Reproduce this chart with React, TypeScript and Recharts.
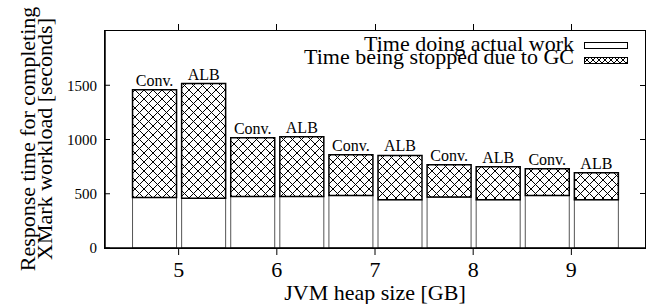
import { Bar, BarChart, LabelList, Legend, XAxis, YAxis } from "recharts";

const heapSizes = [5, 6, 7, 8, 9];
const workConv = [465, 475, 484, 469, 484];
const gcConv = [994, 542, 376, 298, 246];
const workAlb = [459, 475, 445, 445, 445];
const gcAlb = [1057, 551, 408, 304, 249];
const yTicks = [0, 500, 1000, 1500];

const X_DOMAIN: [number, number] = [4.25, 9.75];
const Y_DOMAIN: [number, number] = [0, 2000];

const rows = heapSizes.flatMap((h, i) => [
  { pos: h - 0.25, label: "Conv.", work: workConv[i], gc: gcConv[i] },
  { pos: h + 0.25, label: "ALB", work: workAlb[i], gc: gcAlb[i] },
]);

const FONT = "'Liberation Serif', 'DejaVu Serif', serif";

const W = 651;
const H = 304;
const MARGIN = { top: 31, right: 6, left: 0, bottom: 0 };
const Y_AXIS_W = 105;
const X_AXIS_H = 56;
// plot area, used only for the border frame and its mirrored ticks
const PLOT = {
  left: MARGIN.left + Y_AXIS_W,
  top: MARGIN.top,
  width: W - MARGIN.left - MARGIN.right - Y_AXIS_W,
  height: H - MARGIN.top - MARGIN.bottom - X_AXIS_H,
};

// gnuplot border box, drawn with plain html boxes over the chart
function Frame() {
  const xOf = (v: number) => PLOT.left + ((v - X_DOMAIN[0]) / (X_DOMAIN[1] - X_DOMAIN[0])) * PLOT.width;
  const yOf = (v: number) => PLOT.top + PLOT.height - ((v - Y_DOMAIN[0]) / (Y_DOMAIN[1] - Y_DOMAIN[0])) * PLOT.height;
  const right = PLOT.left + PLOT.width;
  return (
    <>
      <div
        style={{
          position: "absolute",
          left: PLOT.left - 1,
          top: PLOT.top - 1,
          width: PLOT.width,
          height: PLOT.height,
          border: "1.5px solid #000",
          pointerEvents: "none",
          zIndex: 5,
        }}
      />
      {heapSizes.map((h) => (
        <div
          key={`t${h}`}
          style={{ position: "absolute", left: xOf(h) - 0.5, top: PLOT.top - 7, width: 1, height: 6, background: "#000", zIndex: 5 }}
        />
      ))}
      {yTicks.slice(1).map((t) => (
        <div
          key={`r${t}`}
          style={{ position: "absolute", left: right - 5, top: yOf(t) - 0.5, width: 5, height: 1, background: "#000", zIndex: 5 }}
        />
      ))}
    </>
  );
}

function YTitle() {
  return (
    <text transform="rotate(-90)" fontSize={22} fill="#000" textAnchor="middle">
      <tspan x={-139} y={35}>Response time for completing</tspan>
      <tspan x={-139} dy={17}>XMark workload [seconds]</tspan>
    </text>
  );
}

function LegendBox() {
  const row = (text: string, fill: string, swatchTop: number) => (
    <div style={{ display: "flex", alignItems: "flex-start", justifyContent: "flex-end", height: 13.5 }}>
      <span style={{ fontSize: 22, lineHeight: "14px", marginRight: 10, whiteSpace: "nowrap" }}>{text}</span>
      <svg width={44} height={8} style={{ marginTop: swatchTop, display: "block" }}>
        <rect x={0.5} y={0.5} width={43} height={6} fill={fill} stroke="#000" strokeWidth={1} />
      </svg>
    </div>
  );
  return (
    <div style={{ fontFamily: FONT, color: "#000" }}>
      <svg width={0} height={0} style={{ position: "absolute" }}>
        <defs>
          <pattern id="hatchLegend" patternUnits="userSpaceOnUse" width={6} height={6}>
            <rect width={6} height={6} fill="#fff" />
            <path d="M-1,-1 L7,7 M7,-1 L-1,7" stroke="#000" strokeWidth={1} />
          </pattern>
        </defs>
      </svg>
      {row("Time doing actual work", "#fff", 5)}
      {row("Time being stopped due to GC", "url(#hatchLegend)", 6.5)}
    </div>
  );
}

export default function App() {
  return (
    <div style={{ position: "absolute", left: 0, top: 0, width: W, height: H, fontFamily: FONT }}>
      <BarChart width={W} height={H} data={rows} margin={MARGIN}>
        <defs>
          <pattern id="hatch" patternUnits="userSpaceOnUse" width={9} height={9}>
            <rect width={9} height={9} fill="#fff" />
            <path d="M-1,-1 L10,10 M10,-1 L-1,10" stroke="#000" strokeWidth={1} />
          </pattern>
        </defs>
        <XAxis
          dataKey="pos"
          type="number"
          domain={X_DOMAIN}
          ticks={heapSizes}
          allowDataOverflow
          height={X_AXIS_H}
          tickSize={7}
          tickMargin={6}
          tick={{ fontSize: 22, fill: "#000" }}
          axisLine={{ stroke: "#000", strokeWidth: 1.5 }}
          tickLine={{ stroke: "#000" }}
          label={{ value: "JVM heap size [GB]", position: "insideBottom", offset: 4, fontSize: 22, fill: "#000" }}
        />
        <YAxis
          domain={Y_DOMAIN}
          ticks={yTicks}
          allowDataOverflow
          width={Y_AXIS_W}
          tickSize={-5}
          tickMargin={13}
          tick={{ fontSize: 15, fill: "#000" }}
          axisLine={{ stroke: "#000", strokeWidth: 1.5 }}
          tickLine={{ stroke: "#000" }}
          label={<YTitle />}
        />
        <Legend
          layout="horizontal"
          verticalAlign="middle"
          content={<LegendBox />}
          wrapperStyle={{ top: 36.5, right: 23, left: "auto", width: "auto", bottom: "auto" }}
        />
        <Bar
          dataKey="work"
          stackId="a"
          barSize={44}
          fill="#fff"
          stroke="#555"
          strokeWidth={1}
          isAnimationActive={false}
        />
        <Bar
          dataKey="gc"
          stackId="a"
          barSize={44}
          fill="url(#hatch)"
          stroke="#000"
          strokeWidth={1.5}
          isAnimationActive={false}
        >
          <LabelList dataKey="label" position="top" offset={4} fontSize={16} fill="#000" />
        </Bar>
      </BarChart>
      <Frame />
    </div>
  );
}
